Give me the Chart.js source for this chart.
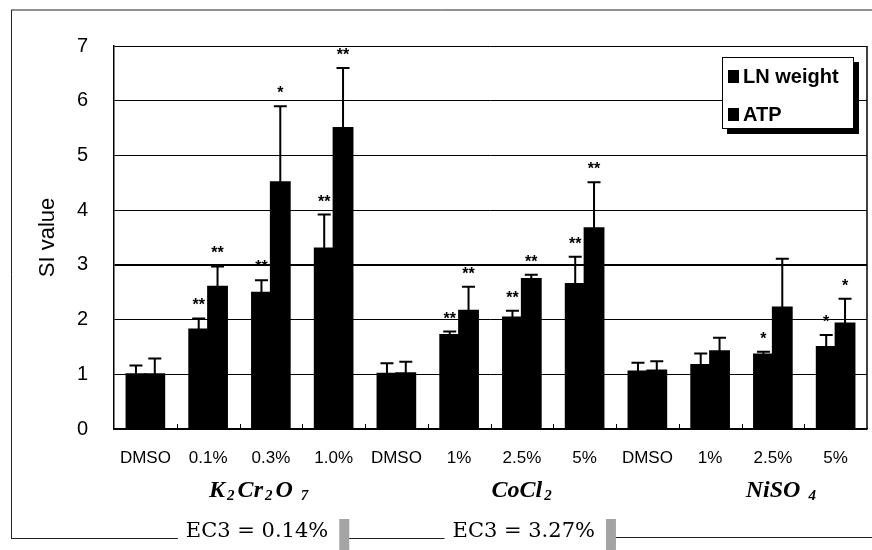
<!DOCTYPE html>
<html><head><meta charset="utf-8">
<script src="https://cdn.jsdelivr.net/npm/chart.js@4.4.1/dist/chart.umd.min.js"></script>
<style>html,body{margin:0;padding:0;background:#fff;}canvas{display:block;}</style>
</head><body>
<canvas id="c" width="872" height="550"></canvas>
<script>
const categories = ['DMSO','0.1%','0.3%','1.0%','DMSO','1%','2.5%','5%','DMSO','1%','2.5%','5%'];
const seriesNames = ['LN weight','ATP'];
const lnWeight   = [1.00, 1.82, 2.49, 3.30, 1.01, 1.72, 2.04, 2.65, 1.05, 1.17, 1.36, 1.50];
const lnWeightSD = [0.16, 0.20, 0.23, 0.62, 0.19, 0.06, 0.12, 0.50, 0.16, 0.21, 0.05, 0.22];
const atp        = [1.00, 2.60, 4.51, 5.50, 1.02, 2.16, 2.74, 3.67, 1.07, 1.42, 2.22, 1.93];
const atpSD      = [0.29, 0.37, 1.39, 1.10, 0.21, 0.44, 0.08, 0.84, 0.17, 0.25, 0.89, 0.45];
const lnSig  = ['', '**', '**', '**', '', '**', '**', '**', '', '', '*', '*'];
const atpSig = ['', '**', '*', '**', '', '**', '**', '**', '', '', '', '*'];
const yTickLabels = ['0','1','2','3','4','5','6','7'];
const compoundNames = ['K2Cr2O 7', 'CoCl2', 'NiSO 4'];
const ec3Labels = ['EC3 = 0.14%', 'EC3 = 3.27%'];
const yTitle = 'SI value';

const SANS = '"Liberation Sans", Arial, sans-serif';
const errors = [lnWeightSD, atpSD];
const sigs = [lnSig, atpSig];

function catPx(xs, idx) {
  const p0 = xs.getPixelForValue(0), p1 = xs.getPixelForValue(1);
  return p0 + idx * (p1 - p0);
}

function drawChem(ctx, text, cx, baseline) {
  const runs = text.match(/[0-9]+|[^0-9]+/g);
  const big = 'italic bold 24px "Liberation Serif", "DejaVu Serif", serif';
  const small = 'italic bold 15px "Liberation Serif", "DejaVu Serif", serif';
  const items = runs.map(r => {
    const sub = /^[0-9]+$/.test(r);
    ctx.font = sub ? small : big;
    return { r, sub, w: ctx.measureText(r).width };
  });
  let total = 0;
  items.forEach(it => { total += it.w + (it.sub ? 4 : 1); });
  let x = cx - total / 2;
  ctx.textAlign = 'left';
  ctx.textBaseline = 'alphabetic';
  ctx.fillStyle = '#000';
  items.forEach(it => {
    if (it.sub) x += 1;
    ctx.font = it.sub ? small : big;
    ctx.fillText(it.r, x, baseline + (it.sub ? 3 : 0));
    x += it.w + (it.sub ? 3 : 1);
  });
}

const extras = {
  id: 'extras',
  afterDatasetsDraw(chart) {
    const ctx = chart.ctx;
    const ys = chart.scales.y;
    const xs = chart.scales.x;
    const ca = chart.chartArea;
    ctx.save();
    chart.data.datasets.forEach((ds, di) => {
      const meta = chart.getDatasetMeta(di);
      meta.data.forEach((bar, i) => {
        const v = ds.data[i];
        const top = ys.getPixelForValue(v + errors[di][i]);
        const base = ys.getPixelForValue(v);
        ctx.strokeStyle = '#000';
        ctx.lineWidth = 2;
        ctx.beginPath();
        ctx.moveTo(bar.x, base);
        ctx.lineTo(bar.x, top);
        ctx.moveTo(bar.x - 6.5, top);
        ctx.lineTo(bar.x + 6.5, top);
        ctx.stroke();
        const s = sigs[di][i];
        if (s) {
          ctx.fillStyle = '#000';
          ctx.font = 'bold 16px ' + SANS;
          ctx.textAlign = 'center';
          ctx.textBaseline = 'alphabetic';
          ctx.fillText(s, bar.x, top - 8);
        }
      });
    });
    ctx.strokeStyle = '#000';
    ctx.lineWidth = 1.5;
    ctx.beginPath();
    ctx.moveTo(ca.right, ca.top);
    ctx.lineTo(ca.right, ca.bottom);
    ctx.stroke();
    ctx.lineWidth = 1;
    ctx.beginPath();
    for (let k = 1; k < categories.length; k++) {
      const x = Math.round(catPx(xs, k - 0.5)) + 0.5;
      ctx.moveTo(x, ca.bottom);
      ctx.lineTo(x, ca.bottom - 5);
    }
    ctx.stroke();
    ctx.restore();
  },
  afterDraw(chart) {
    const ctx = chart.ctx;
    const ca = chart.chartArea;
    const xs = chart.scales.x;
    ctx.save();
    const bw = 132, bh = 72;
    const bx = ca.right - 13 - bw, by = ca.top + 11;
    ctx.fillStyle = '#000';
    ctx.fillRect(bx + 5, by + 5, bw, bh);
    ctx.fillStyle = '#fff';
    ctx.fillRect(bx, by, bw, bh);
    ctx.strokeStyle = '#000';
    ctx.lineWidth = 1;
    ctx.strokeRect(bx + 0.5, by + 0.5, bw - 1, bh - 1);
    ctx.font = 'bold 20px ' + SANS;
    ctx.textAlign = 'left';
    ctx.textBaseline = 'alphabetic';
    seriesNames.forEach((n, i) => {
      const base = by + 26 + i * 38;
      ctx.fillStyle = '#000';
      ctx.fillRect(bx + 6, base - 13, 11, 13);
      ctx.fillText(n, bx + 21, base);
    });
    const chemIdx = [1.83, 6.02, 10.15];
    compoundNames.forEach((n, i) => drawChem(ctx, n, catPx(xs, chemIdx[i]), 497));
    const frameTop = 10, frameLeft = 11, lineY = 538.5;
    ctx.strokeStyle = '#222';
    ctx.lineWidth = 1;
    ctx.beginPath();
    ctx.moveTo(frameLeft, frameTop);
    ctx.lineTo(872, frameTop);
    ctx.moveTo(frameLeft + 0.5, frameTop);
    ctx.lineTo(frameLeft + 0.5, lineY);
    ctx.stroke();
    ctx.font = '21px "DejaVu Serif", "Liberation Serif", serif';
    ctx.fillStyle = '#000';
    ctx.textAlign = 'left';
    ctx.textBaseline = 'alphabetic';
    const ecIdx = [1.78, 6.03];
    let prevX = frameLeft;
    ec3Labels.forEach((t, i) => {
      const w = ctx.measureText(t).width;
      const left = catPx(xs, ecIdx[i]) - w / 2;
      ctx.beginPath();
      ctx.moveTo(prevX, lineY);
      ctx.lineTo(left - 8, lineY);
      ctx.stroke();
      ctx.fillText(t, left, 537);
      const gx = left + w + 11;
      ctx.fillStyle = '#a4a4a4';
      ctx.fillRect(gx, 519, 10, 31);
      ctx.fillStyle = '#000';
      prevX = gx + 10;
    });
    ctx.beginPath();
    ctx.moveTo(prevX, lineY - 1);
    ctx.lineTo(872, lineY - 1);
    ctx.stroke();
    ctx.restore();
  }
};

new Chart(document.getElementById('c'), {
  type: 'bar',
  data: {
    labels: categories,
    datasets: [
      { label: seriesNames[0], data: lnWeight, backgroundColor: '#000', borderWidth: 0, inflateAmount: 1, categoryPercentage: 0.6, barPercentage: 1.0 },
      { label: seriesNames[1], data: atp, backgroundColor: '#000', borderWidth: 0, inflateAmount: 1, categoryPercentage: 0.6, barPercentage: 1.0 }
    ]
  },
  options: {
    responsive: false,
    animation: false,
    devicePixelRatio: 1,
    layout: { padding: { top: 46, right: 5, left: 0, bottom: 0 } },
    plugins: { legend: { display: false }, tooltip: { enabled: false } },
    scales: {
      x: {
        offset: true,
        grid: { display: false, drawTicks: false },
        border: { display: true, color: '#000', width: 1.5 },
        ticks: { color: '#000', font: { family: SANS, size: 17 }, padding: 19, maxRotation: 0, autoSkip: false },
        afterFit: s => { s.height = 121; }
      },
      y: {
        min: 0, max: 7,
        ticks: { stepSize: 1, color: '#000', font: { family: SANS, size: 20 }, padding: 26,
                 callback: v => yTickLabels[v] },
        grid: { color: '#000', lineWidth: c => (c.tick && c.tick.value === 3 ? 2 : 1), drawTicks: false },
        border: { display: true, color: '#000', width: 1.5 },
        title: { display: true, text: yTitle, color: '#000', font: { family: SANS, size: 22 }, padding: { top: 35, bottom: 0 } },
        afterFit: s => { s.width = 114; }
      }
    }
  },
  plugins: [extras]
});
</script>
</body></html>
